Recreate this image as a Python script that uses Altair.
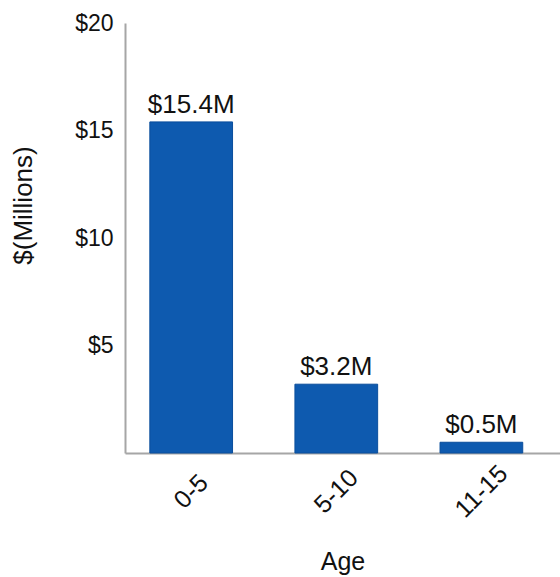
import altair as alt
import pandas as pd

ages = ["0-5", "5-10", "11-15"]
values = [15.4, 3.2, 0.5]
labels = ["$15.4M", "$3.2M", "$0.5M"]

df = pd.DataFrame({"age": ages, "value": values, "label": labels})

FONT = "Liberation Sans"

x_enc = alt.X(
    "age:N",
    sort=ages,
    scale=alt.Scale(paddingInner=0.43, paddingOuter=0.214, align=0.4),
    axis=alt.Axis(
        title="Age",
        labelAngle=-45,
        labelAlign="center",
        labelBaseline="middle",
        labelFontSize=25,
        labelFont=FONT,
        labelColor="#111111",
        labelPadding=38,
        ticks=False,
        domainColor="#a6a6a6",
        domainWidth=2,
        titleFontSize=25,
        titleFont=FONT,
        titleFontWeight="normal",
        titleColor="#111111",
        titleBaseline="top",
        titleY=96,
    ),
)

y_enc = alt.Y(
    "value:Q",
    scale=alt.Scale(domain=[0, 20], nice=False),
    axis=alt.Axis(
        title="$(Millions)",
        values=[0, 5, 10, 15, 20],
        labelExpr="datum.value == 0 ? '' : '$' + datum.value",
        labelFontSize=23,
        labelFont=FONT,
        labelColor="#111111",
        labelPadding=12,
        ticks=False,
        grid=False,
        domainColor="#a6a6a6",
        domainWidth=2,
        titleFontSize=26,
        titleFont=FONT,
        titleFontWeight="normal",
        titleColor="#111111",
        titleX=-89,
        titleY=182,
    ),
)

bars = alt.Chart(df).mark_bar(color="#0E5AAF", stroke="#0A4E9C", strokeWidth=1).encode(
    x=x_enc, y=y_enc
)

text = alt.Chart(df).mark_text(
    baseline="alphabetic", dy=-9, fontSize=26, font=FONT, color="#111111"
).encode(x=alt.X("age:N", sort=ages), y="value:Q", text="label:N")

chart = (
    alt.layer(bars, text)
    .properties(
        width=435,
        height=430,
        autosize=alt.AutoSizeParams(type="none"),
        padding={"left": 125, "top": 23, "right": 0, "bottom": 124},
        background="white",
    )
    .configure_view(stroke=None)
)

chart.save("out.html", embed_options={"renderer": "svg", "actions": False})
